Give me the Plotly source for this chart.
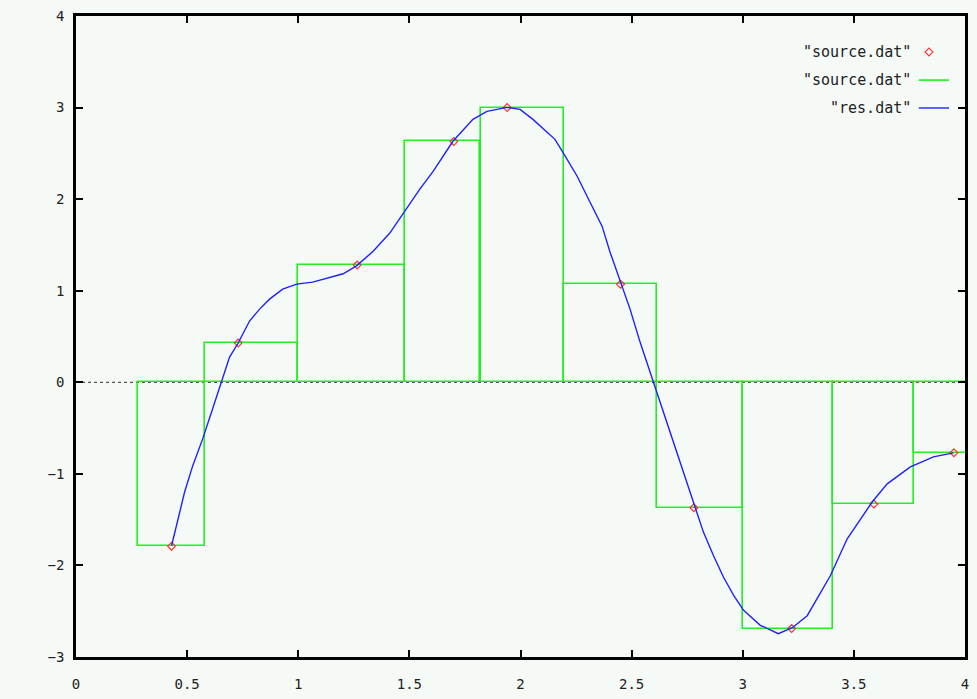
import plotly.graph_objects as go

# source.dat points
src_x = [0.43, 0.73, 1.265, 1.70, 1.94, 2.45, 2.78, 3.22, 3.59, 3.95]
src_y = [-1.79, 0.43, 1.28, 2.63, 3.00, 1.07, -1.37, -2.69, -1.33, -0.77]

# res.dat (interpolated curve)
res_x = [0.430, 0.489, 0.525, 0.570, 0.610, 0.655, 0.691, 0.727, 0.781, 0.826,
         0.871, 0.930, 0.993, 1.065, 1.142, 1.202, 1.262, 1.337, 1.412, 1.480,
         1.547, 1.606, 1.696, 1.786, 1.849, 1.939, 1.998, 2.056, 2.155,
         2.191, 2.255, 2.313, 2.367, 2.403, 2.453, 2.493, 2.538, 2.597, 2.628,
         2.687, 2.732, 2.786, 2.823, 2.868, 2.913, 2.959, 3.004, 3.079, 3.160,
         3.223, 3.290, 3.394, 3.470, 3.583, 3.650, 3.754, 3.858, 3.948]
res_y = [-1.785, -1.196, -0.913, -0.618, -0.324, 0.003, 0.276, 0.418, 0.669, 0.799,
         0.908, 1.017, 1.072, 1.094, 1.145, 1.185, 1.272, 1.430, 1.630, 1.870,
         2.110, 2.300, 2.632, 2.872, 2.959, 3.002, 2.980, 2.871, 2.653,
         2.511, 2.250, 1.966, 1.705, 1.421, 1.072, 0.799, 0.439, 0.014, -0.215,
         -0.651, -0.978, -1.363, -1.636, -1.891, -2.126, -2.327, -2.491, -2.654, -2.745,
         -2.680, -2.549, -2.113, -1.709, -1.305, -1.109, -0.924, -0.815, -0.771]

x_ticks = [0, 0.5, 1, 1.5, 2, 2.5, 3, 3.5, 4]
x_tick_labels = ["0", "0.5", "1", "1.5", "2", "2.5", "3", "3.5", "4"]
y_ticks = [-3, -2, -1, 0, 1, 2, 3, 4]
legend_labels = ['"source.dat"', '"source.dat"', '"res.dat"']

BG = "#f5faf7"
RED = "#ff3030"
GREEN = "#22ee22"
BLUE = "#2020ff"
FONT = "DejaVu Sans Mono"

# gnuplot-style boxes: edges at midpoints between neighbours
mids = [(a + b) / 2 for a, b in zip(src_x[:-1], src_x[1:])]
lefts = [src_x[0] - (mids[0] - src_x[0])] + mids
rights = mids + [src_x[-1] + (src_x[-1] - mids[-1])]
centers = [(l + r) / 2 for l, r in zip(lefts, rights)]
widths = [r - l for l, r in zip(lefts, rights)]

fig = go.Figure()

fig.add_trace(go.Scatter(
    x=src_x, y=src_y, mode="markers",
    marker=dict(symbol="diamond-open", size=6, color=RED, line=dict(width=1.2, color=RED)),
    showlegend=False))

fig.add_trace(go.Bar(
    x=centers, y=src_y, width=widths, base=0,
    marker=dict(color="rgba(0,0,0,0)", line=dict(color=GREEN, width=1.6)),
    showlegend=False))

fig.add_trace(go.Scatter(
    x=res_x, y=res_y, mode="lines",
    line=dict(color=BLUE, width=1.4),
    showlegend=False))

# legend samples on a hidden overlay axis (0..1 paper-like)
leg_y = [0.944, 0.900, 0.8565]
fig.add_trace(go.Scatter(
    x=[0.9595], y=[leg_y[0]], mode="markers", xaxis="x2", yaxis="y2",
    marker=dict(symbol="diamond-open", size=6, color=RED, line=dict(width=1.2, color=RED)),
    showlegend=False, hoverinfo="skip"))
fig.add_trace(go.Scatter(
    x=[0.948, 0.982], y=[leg_y[1], leg_y[1]], mode="lines", xaxis="x2", yaxis="y2",
    line=dict(color=GREEN, width=1.6), showlegend=False, hoverinfo="skip"))
fig.add_trace(go.Scatter(
    x=[0.948, 0.982], y=[leg_y[2], leg_y[2]], mode="lines", xaxis="x2", yaxis="y2",
    line=dict(color=BLUE, width=1.4), showlegend=False, hoverinfo="skip"))

for lbl, yy in zip(legend_labels, leg_y):
    fig.add_annotation(x=0.941, y=yy, xref="paper", yref="paper", text=lbl,
                       showarrow=False, xanchor="right", yanchor="middle",
                       font=dict(family=FONT, size=15, color="#222222"))

# dotted zero axis
fig.add_shape(type="line", xref="x domain", yref="y", x0=0, x1=1, y0=0, y1=0,
              line=dict(color="#555555", width=1.2, dash="dot"), layer="below")

axis_common = dict(showgrid=False, zeroline=False, showline=True, linecolor="black",
                   linewidth=2.5, mirror="allticks", ticks="inside", ticklen=7,
                   tickwidth=2, tickcolor="black", automargin=False,
                   tickfont=dict(family=FONT, size=14, color="#222222"))

fig.update_layout(
    width=977, height=699,
    margin=dict(l=76, r=12, t=16, b=42),
    paper_bgcolor=BG, plot_bgcolor=BG,
    bargap=0,
    xaxis=dict(range=[0, 4], tickvals=x_ticks, ticktext=x_tick_labels,
               ticklabelstandoff=12, **axis_common),
    yaxis=dict(range=[-3, 4], tickvals=y_ticks, ticklabelstandoff=6, **axis_common),
    xaxis2=dict(overlaying="x", range=[0, 1], visible=False, fixedrange=True),
    yaxis2=dict(overlaying="y", range=[0, 1], visible=False, fixedrange=True),
)

fig.write_html("out.html", config={"displayModeBar": False},
               post_script="document.body.style.margin='0';")
